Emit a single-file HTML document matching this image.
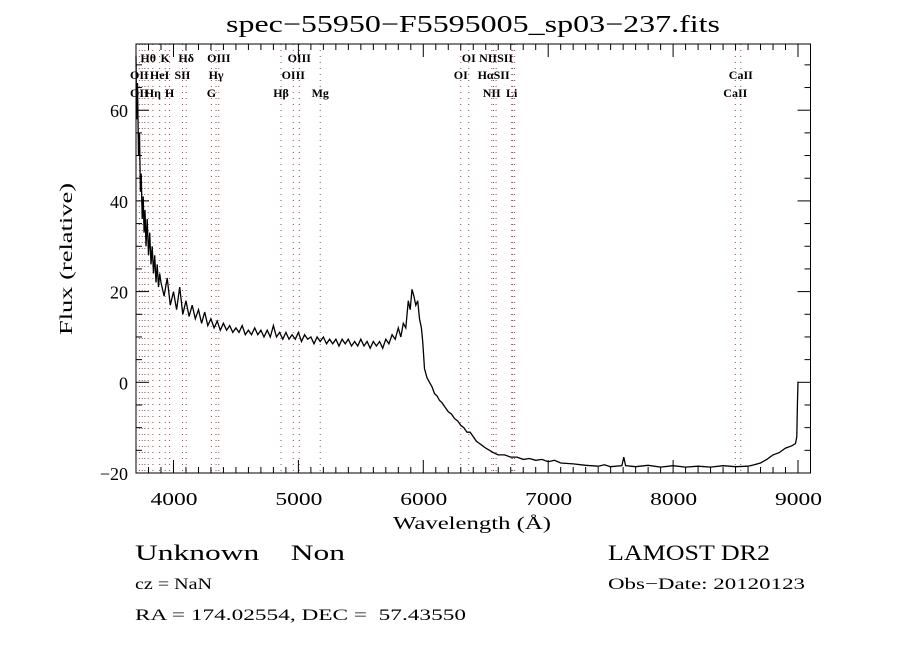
<!DOCTYPE html>
<html><head><meta charset="utf-8"><style>
body{margin:0;background:#fff;}
svg text{font-family:"Liberation Serif",serif;fill:#000;white-space:pre;}
</style></head><body>
<svg id="chart" width="900" height="650" viewBox="0 0 900 650" xmlns="http://www.w3.org/2000/svg" xml:space="preserve">
<rect width="900" height="650" fill="#fff"/>
<text x="226" y="32" font-size="24" textLength="494" lengthAdjust="spacingAndGlyphs">spec−55950−F5595005_sp03−237.fits</text>
<g id="lines"></g>
<g id="labels"></g>
<path id="spec" fill="none" stroke="#000" stroke-width="1.3"/>
<rect x="136" y="44" width="674.5" height="429" fill="none" stroke="#000" stroke-width="1"/>
<g id="ticks" stroke="#000" stroke-width="1"></g>
<g id="ticklabels"></g>
<text x="393" y="529" font-size="18" textLength="158" lengthAdjust="spacingAndGlyphs">Wavelength (Å)</text>
<text transform="translate(72,335) rotate(-90)" font-size="18" textLength="152" lengthAdjust="spacingAndGlyphs">Flux (relative)</text>
<text x="135" y="560" font-size="22" textLength="210" lengthAdjust="spacingAndGlyphs">Unknown    Non</text>
<text x="135" y="589" font-size="16" textLength="77" lengthAdjust="spacingAndGlyphs">cz = NaN</text>
<text x="135" y="620" font-size="16" textLength="331" lengthAdjust="spacingAndGlyphs">RA = 174.02554, DEC =  57.43550</text>
<text x="608" y="560" font-size="22" textLength="162" lengthAdjust="spacingAndGlyphs">LAMOST DR2</text>
<text x="608" y="589" font-size="16" textLength="197" lengthAdjust="spacingAndGlyphs">Obs−Date: 20120123</text>
</svg>
<script>
const wave=[3700,3705,3712,3720,3728,3735,3742,3750,3758,3765,3772,3780,3790,3800,3810,3820,3830,3840,3850,3860,3870,3880,3890,3900,3925,3950,3975,4000,4025,4050,4075,4100,4125,4150,4175,4200,4225,4250,4275,4300,4325,4350,4375,4400,4425,4450,4475,4500,4525,4550,4575,4600,4625,4650,4675,4700,4725,4750,4775,4800,4825,4850,4875,4900,4925,4950,4975,5000,5025,5050,5075,5100,5125,5150,5175,5200,5225,5250,5275,5300,5325,5350,5375,5400,5425,5450,5475,5500,5525,5550,5575,5600,5625,5650,5675,5700,5725,5750,5775,5800,5820,5840,5860,5880,5895,5910,5925,5940,5955,5970,5985,5995,6010,6030,6050,6070,6090,6110,6130,6150,6175,6200,6225,6250,6275,6300,6325,6350,6375,6400,6425,6450,6475,6500,6530,6560,6600,6650,6700,6750,6800,6850,6900,6950,7000,7050,7100,7200,7300,7400,7450,7500,7590,7605,7620,7700,7800,7900,8000,8100,8200,8300,8400,8500,8600,8650,8700,8750,8800,8850,8900,8950,8980,8990,8995,9000,9005];
const flux=[72,58,66,50,55,42,46,36,41,33,38,30,36,28,33,26,30,24,28,22,26,21,24,22,19,23,17,20,16,21,15,18,14.5,17,14,16,13,15.5,12.5,14,12,13.5,11.5,13,11.5,12.5,11,12,11,12.5,10.5,11.5,10.5,12,10.5,11.5,10,11.5,10,12.5,10,11,9.5,11,9.5,10.5,9.5,11,9,10.5,9.5,10,8.5,10,9,10,8.5,9.5,8.5,9.5,8,9.5,8.5,9.5,8,9,8,9.5,8,9,7.5,9,8,9,7.5,9.5,8.5,10.5,9.5,12,10,13,12,18,16,20.5,19,17,18,14,12,9,3,1,0,-1,-2.5,-3,-4,-4.5,-5.5,-6.5,-7,-8,-8.5,-9.5,-10,-11,-11,-12,-13,-13.5,-14,-14.5,-15,-15.5,-16,-16,-16.5,-16.5,-17,-16.8,-17.2,-17,-17.5,-17.2,-17.8,-18,-18.3,-18.5,-18.2,-18.6,-18.4,-16.5,-18.4,-18.6,-18.3,-18.7,-18.4,-18.7,-18.5,-18.7,-18.4,-18.6,-18.5,-18.2,-17.8,-17,-16,-15.5,-14.5,-14,-13.5,-12,-5,0,0];
const lineWaves=[3727,3750,3771,3798,3835,3889,3934,3969,4072,4102,4304,4341,4363,4861,4959,5007,5175,6300,6364,6548,6563,6583,6708,6716,6731,8498,8542];
const labelWave=[3798,3934,4102,4363,5007,6364,6583,3727,3889,4072,4341,4959,6300,6563,8542,3727,3835,3969,4304,4861,5175,6548,6708,8498];
const labelRow=[0,0,0,0,0,0,0,1,1,1,1,1,1,1,1,2,2,2,2,2,2,2,2,2];
const labelStr=["Hθ","K","Hδ","OIII","OIII","OI","NIISII","OII","HeI","SII","Hγ","OIII","OI","HαSII","CaII","OII","Hη","H","G","Hβ","Mg","NII","Li","CaII"];
const xTicks=[4000,5000,6000,7000,8000,9000];
const yTicks=[-20,0,20,40,60];
const X0=136,X1=810.5,Y0=44,Y1=473,XMIN=3700,XMAX=9100,YMIN=-20,YMAX=74.6;
const sx=w=>X0+(w-XMIN)/(XMAX-XMIN)*(X1-X0);
const sy=f=>Y1-(f-YMIN)/(YMAX-YMIN)*(Y1-Y0);
const NS="http://www.w3.org/2000/svg";
function mk(t,a){const e=document.createElementNS(NS,t);for(const k in a)e.setAttribute(k,a[k]);return e;}
let d="";
for(let i=0;i<wave.length;i++){const y=Math.max(Y0,Math.min(Y1,sy(flux[i])));d+=(i?"L":"M")+sx(wave[i]).toFixed(1)+","+y.toFixed(1);}
document.getElementById("spec").setAttribute("d",d);
const lg=document.getElementById("lines");
lineWaves.forEach(w=>{const l=mk("line",{x1:sx(w),x2:sx(w),y1:Y0,y2:Y1,stroke:"#8b1a1a","stroke-width":1,"stroke-dasharray":"1,5","stroke-opacity":0.8});


lg.appendChild(l);});
const lb=document.getElementById("labels");
const rowY=[62,79,97];
labelWave.forEach((w,i)=>{const s=labelStr[i];const t=mk("text",{x:sx(w),y:rowY[labelRow[i]],"font-size":12,"text-anchor":"middle","font-weight":"bold"});t.textContent=s;


lb.appendChild(t);});
const tg=document.getElementById("ticks"),tl=document.getElementById("ticklabels");
for(let w=3700;w<=9100;w+=100){const x=sx(w);const L=(w%1000===0)?13:6;
tg.appendChild(mk("line",{x1:x,x2:x,y1:Y1,y2:Y1-L}));tg.appendChild(mk("line",{x1:x,x2:x,y1:Y0,y2:Y0+L}));}
for(let f=-20;f<=70;f+=5){const y=sy(f);const L=(f%20===0)?13:6;
tg.appendChild(mk("line",{x1:X0,x2:X0+L,y1:y,y2:y}));tg.appendChild(mk("line",{x1:X1,x2:X1-L,y1:y,y2:y}));}
xTicks.forEach(w=>{const t=mk("text",{x:sx(w)-23,y:505,"font-size":18,"textLength":47,"lengthAdjust":"spacingAndGlyphs","font-family":"Liberation Sans, sans-serif"});t.textContent=w;


tl.appendChild(t);});
yTicks.forEach(f=>{const t=mk("text",{x:128,y:sy(f)+7,"font-size":18,"text-anchor":"end","font-family":"Liberation Sans, sans-serif"});t.textContent=f<0?"−"+(-f):f;


tl.appendChild(t);});
</script>
</body></html>
